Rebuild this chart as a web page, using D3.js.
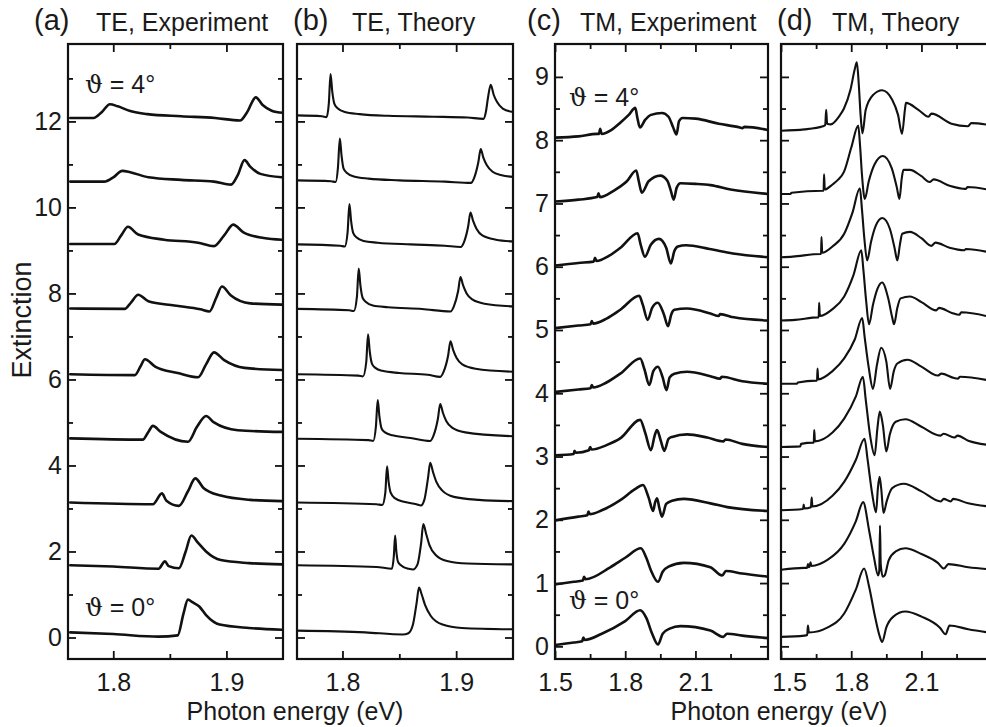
<!DOCTYPE html>
<html><head><meta charset="utf-8">
<script src="https://cdn.jsdelivr.net/npm/d3@7"></script>
<style>
body{margin:0;background:#fff}
svg{display:block}
text{font-family:"Liberation Sans",Arial,Helvetica,sans-serif;fill:#1a1a1a}
</style>
</head><body>
<svg id="chart" width="986" height="727"></svg>
<script>
// ---------------- DATA ----------------
const panelLetters = ["(a)", "(b)", "(c)", "(d)"];
const panelTitles = ["TE, Experiment", "TE, Theory", "TM, Experiment", "TM, Theory"];
const angleLabels = ["\u03D1 = 4\u00B0", "\u03D1 = 0\u00B0"];

const teMajorX = [1.8, 1.9];
const teMinorX = [1.85];
const teMajorY = [0, 2, 4, 6, 8, 10, 12];
const teMinorY = [1, 3, 5, 7, 9, 11, 13];
const tmMajorX = [1.5, 1.8, 2.1];
const tmMinorX = [1.65, 1.95, 2.25];
const tmMajorY = [0, 1, 2, 3, 4, 5, 6, 7, 8, 9];
const tmMinorY = [0.5, 1.5, 2.5, 3.5, 4.5, 5.5, 6.5, 7.5, 8.5];

// (a) TE experiment, spectra for theta = 0 ... 4 deg (offset)
const teExperiment = [
  [[1.762,0.12],[1.8,0.08],[1.84,0.02],[1.857,0.05],[1.862,0.55],[1.866,0.88],[1.87,0.82],[1.876,0.72],[1.882,0.52],[1.894,0.3],[1.92,0.22],[1.949,0.18]],
  [[1.762,1.68],[1.8,1.65],[1.84,1.6],[1.8457,1.77],[1.849,1.66],[1.858,1.61],[1.864,2.0],[1.869,2.37],[1.875,2.2],[1.882,2.0],[1.895,1.8],[1.92,1.73],[1.949,1.7]],
  [[1.762,3.14],[1.835,3.1],[1.843,3.35],[1.847,3.18],[1.858,3.06],[1.866,3.4],[1.8725,3.7],[1.88,3.47],[1.895,3.3],[1.921,3.2],[1.949,3.17]],
  [[1.762,4.63],[1.826,4.6],[1.831,4.78],[1.835,4.92],[1.842,4.78],[1.866,4.55],[1.874,4.9],[1.882,5.15],[1.889,5.0],[1.91,4.82],[1.949,4.78]],
  [[1.762,6.12],[1.819,6.1],[1.824,6.3],[1.828,6.47],[1.837,6.3],[1.857,6.15],[1.875,6.05],[1.882,6.35],[1.889,6.63],[1.898,6.45],[1.916,6.27],[1.949,6.22]],
  [[1.762,7.65],[1.81,7.64],[1.816,7.8],[1.822,7.97],[1.831,7.82],[1.854,7.72],[1.877,7.63],[1.885,7.58],[1.891,7.9],[1.896,8.16],[1.904,7.95],[1.921,7.77],[1.949,7.74]],
  [[1.762,9.15],[1.801,9.15],[1.807,9.35],[1.813,9.55],[1.822,9.37],[1.845,9.25],[1.875,9.18],[1.889,9.1],[1.898,9.35],[1.906,9.6],[1.915,9.42],[1.933,9.29],[1.949,9.25]],
  [[1.762,10.6],[1.792,10.6],[1.8,10.7],[1.808,10.85],[1.815,10.82],[1.831,10.7],[1.86,10.64],[1.889,10.6],[1.904,10.53],[1.91,10.75],[1.916,11.1],[1.921,10.95],[1.93,10.78],[1.949,10.7]],
  [[1.762,12.08],[1.7825,12.08],[1.79,12.22],[1.797,12.4],[1.804,12.35],[1.815,12.24],[1.83,12.17],[1.86,12.12],[1.89,12.08],[1.912,12.02],[1.918,12.2],[1.926,12.56],[1.932,12.38],[1.94,12.25],[1.95,12.2]]
];

// (b) TE theory
const teTheory = [
  [[1.76,0.16],[1.82,0.12],[1.853,0.07],[1.858,0.1],[1.862,0.3],[1.8652,0.8],[1.8673,1.16],[1.8697,1.0],[1.8727,0.75],[1.8777,0.5],[1.888,0.3],[1.905,0.22],[1.95,0.19]],
  [[1.76,1.68],[1.83,1.64],[1.8435,1.6],[1.8452,1.9],[1.8463,2.37],[1.8474,2.0],[1.849,1.75],[1.853,1.65],[1.858,1.6],[1.862,1.58],[1.866,1.7],[1.8692,2.2],[1.8711,2.64],[1.8735,2.42],[1.8765,2.15],[1.882,1.92],[1.892,1.78],[1.91,1.72],[1.95,1.7]],
  [[1.76,3.14],[1.83,3.1],[1.835,3.08],[1.8377,3.37],[1.8392,3.98],[1.8406,3.62],[1.8425,3.36],[1.846,3.24],[1.855,3.15],[1.865,3.1],[1.869,3.07],[1.872,3.2],[1.8752,3.7],[1.8772,4.06],[1.8796,3.85],[1.8826,3.62],[1.8876,3.42],[1.898,3.27],[1.92,3.2],[1.95,3.17]],
  [[1.76,4.62],[1.823,4.59],[1.827,4.57],[1.8294,4.9],[1.831,5.52],[1.8325,5.14],[1.8344,4.86],[1.8374,4.77],[1.844,4.7],[1.86,4.64],[1.877,4.57],[1.88,4.69],[1.8839,5.08],[1.886,5.43],[1.8884,5.22],[1.8914,5.03],[1.8964,4.88],[1.908,4.77],[1.95,4.68]],
  [[1.76,6.12],[1.814,6.09],[1.818,6.07],[1.8209,6.4],[1.8225,7.05],[1.824,6.65],[1.8259,6.37],[1.8289,6.27],[1.835,6.2],[1.85,6.15],[1.875,6.11],[1.886,6.06],[1.889,6.18],[1.8929,6.55],[1.895,6.89],[1.8974,6.68],[1.9004,6.5],[1.9054,6.35],[1.917,6.25],[1.95,6.18]],
  [[1.76,7.64],[1.806,7.61],[1.81,7.59],[1.8127,7.92],[1.8143,8.58],[1.8158,8.18],[1.8177,7.9],[1.8207,7.8],[1.8267,7.72],[1.84,7.68],[1.87,7.64],[1.895,7.58],[1.898,7.7],[1.9017,8.05],[1.9038,8.38],[1.9062,8.18],[1.9092,8.0],[1.9142,7.86],[1.925,7.76],[1.95,7.7]],
  [[1.76,9.14],[1.798,9.11],[1.802,9.09],[1.8045,9.42],[1.8061,10.08],[1.8076,9.68],[1.8095,9.4],[1.8125,9.3],[1.8185,9.22],[1.831,9.18],[1.86,9.14],[1.89,9.11],[1.904,9.08],[1.907,9.2],[1.9105,9.55],[1.9126,9.88],[1.915,9.68],[1.918,9.5],[1.923,9.35],[1.935,9.25],[1.95,9.21]],
  [[1.76,10.63],[1.79,10.61],[1.794,10.59],[1.796,10.92],[1.7977,11.6],[1.7992,11.2],[1.801,10.9],[1.804,10.8],[1.81,10.72],[1.823,10.67],[1.85,10.63],[1.89,10.6],[1.913,10.57],[1.916,10.7],[1.9195,11.05],[1.9216,11.36],[1.924,11.15],[1.927,10.98],[1.932,10.83],[1.94,10.75],[1.95,10.71]],
  [[1.76,12.14],[1.782,12.12],[1.786,12.1],[1.788,12.42],[1.7895,13.1],[1.791,12.7],[1.793,12.4],[1.796,12.3],[1.802,12.22],[1.815,12.17],[1.84,12.13],[1.88,12.11],[1.91,12.09],[1.924,12.06],[1.926,12.2],[1.928,12.55],[1.9304,12.85],[1.933,12.62],[1.936,12.45],[1.941,12.3],[1.95,12.22]]
];

// (c) TM experiment
const tmExperiment = [
  [[1.5,0.02],[1.58,0.06],[1.616,0.08],[1.621,0.14],[1.627,0.1],[1.7,0.2],[1.8,0.4],[1.864,0.57],[1.89,0.45],[1.915,0.2],[1.94,0.03],[1.96,0.2],[1.99,0.28],[2.036,0.32],[2.164,0.25],[2.219,0.15],[2.235,0.2],[2.3,0.17],[2.41,0.13]],
  [[1.5,0.98],[1.58,1.02],[1.619,1.04],[1.624,1.1],[1.63,1.06],[1.736,1.25],[1.8,1.4],[1.867,1.55],[1.89,1.4],[1.91,1.2],[1.94,1.02],[1.96,1.18],[1.985,1.26],[2.05,1.32],[2.164,1.25],[2.214,1.12],[2.23,1.19],[2.3,1.15],[2.41,1.1]],
  [[1.5,1.99],[1.6,2.05],[1.638,2.07],[1.643,2.13],[1.649,2.09],[1.7,2.15],[1.779,2.31],[1.84,2.48],[1.876,2.55],[1.9,2.35],[1.919,2.14],[1.928,2.28],[1.936,2.34],[1.945,2.2],[1.957,2.05],[1.975,2.25],[2.0,2.3],[2.05,2.33],[2.164,2.26],[2.236,2.2],[2.41,2.14]],
  [[1.5,3.02],[1.58,3.04],[1.583,3.09],[1.59,3.06],[1.645,3.1],[1.65,3.15],[1.656,3.11],[1.72,3.18],[1.78,3.29],[1.864,3.58],[1.885,3.38],[1.91,3.1],[1.925,3.32],[1.936,3.42],[1.952,3.25],[1.967,3.09],[1.985,3.28],[2.0,3.31],[2.064,3.35],[2.15,3.3],[2.22,3.24],[2.228,3.27],[2.3,3.2],[2.41,3.15]],
  [[1.5,4.02],[1.6,4.06],[1.652,4.08],[1.657,4.13],[1.663,4.09],[1.72,4.17],[1.779,4.31],[1.864,4.55],[1.882,4.38],[1.903,4.13],[1.92,4.35],[1.94,4.42],[1.96,4.25],[1.976,4.05],[1.99,4.25],[2.01,4.31],[2.064,4.34],[2.164,4.27],[2.205,4.23],[2.212,4.26],[2.3,4.19],[2.41,4.15]],
  [[1.5,5.03],[1.6,5.07],[1.652,5.09],[1.657,5.14],[1.663,5.1],[1.72,5.18],[1.779,5.32],[1.86,5.54],[1.875,5.4],[1.896,5.16],[1.915,5.35],[1.939,5.43],[1.965,5.25],[1.983,5.06],[1.997,5.25],[2.01,5.32],[2.064,5.34],[2.164,5.26],[2.2,5.22],[2.205,5.25],[2.264,5.2],[2.41,5.15]],
  [[1.5,6.02],[1.6,6.06],[1.665,6.08],[1.671,6.14],[1.677,6.09],[1.73,6.17],[1.78,6.3],[1.853,6.53],[1.866,6.35],[1.884,6.16],[1.91,6.35],[1.944,6.44],[1.975,6.3],[1.995,6.05],[2.01,6.25],[2.025,6.32],[2.06,6.34],[2.16,6.28],[2.26,6.21],[2.41,6.15]],
  [[1.5,7.03],[1.6,7.06],[1.68,7.1],[1.686,7.16],[1.692,7.1],[1.75,7.2],[1.807,7.35],[1.847,7.52],[1.858,7.35],[1.871,7.17],[1.9,7.35],[1.95,7.44],[1.98,7.36],[1.995,7.2],[2.007,7.06],[2.02,7.25],[2.036,7.32],[2.1,7.31],[2.164,7.29],[2.25,7.22],[2.41,7.15]],
  [[1.5,8.04],[1.6,8.06],[1.68,8.1],[1.688,8.1],[1.693,8.18],[1.699,8.1],[1.74,8.16],[1.78,8.28],[1.815,8.4],[1.843,8.51],[1.852,8.35],[1.863,8.2],[1.885,8.32],[1.91,8.4],[1.957,8.43],[1.985,8.37],[2.005,8.2],[2.019,8.09],[2.03,8.3],[2.045,8.35],[2.1,8.34],[2.2,8.26],[2.29,8.2],[2.3,8.19],[2.31,8.21],[2.41,8.16]]
];

// (d) TM theory
const tmTheory = [
  [[1.5,0.15],[1.6,0.17],[1.612,0.18],[1.615,0.33],[1.619,0.22],[1.7,0.3],[1.77,0.52],[1.82,0.9],[1.855,1.23],[1.876,0.95],[1.9,0.5],[1.92,0.18],[1.932,0.07],[1.95,0.3],[1.98,0.47],[2.031,0.55],[2.1,0.47],[2.18,0.29],[2.203,0.19],[2.22,0.33],[2.3,0.27],[2.42,0.2]],
  [[1.5,1.21],[1.6,1.24],[1.612,1.24],[1.615,1.3],[1.618,1.25],[1.622,1.26],[1.626,1.33],[1.63,1.27],[1.7,1.37],[1.77,1.62],[1.82,1.98],[1.851,2.28],[1.876,1.84],[1.897,1.41],[1.915,1.12],[1.92,1.2],[1.923,1.91],[1.926,1.3],[1.935,1.1],[1.943,1.12],[1.96,1.36],[1.99,1.5],[2.031,1.55],[2.1,1.46],[2.17,1.32],[2.196,1.23],[2.215,1.3],[2.3,1.25],[2.42,1.21]],
  [[1.5,2.15],[1.594,2.17],[1.597,2.24],[1.6,2.18],[1.628,2.2],[1.631,2.35],[1.634,2.21],[1.72,2.38],[1.77,2.6],[1.82,2.95],[1.857,3.28],[1.87,2.95],[1.89,2.4],[1.906,2.12],[1.914,2.5],[1.921,2.68],[1.928,2.5],[1.938,2.11],[1.952,2.3],[1.975,2.5],[2.025,2.57],[2.1,2.45],[2.183,2.29],[2.195,2.33],[2.225,2.29],[2.235,2.33],[2.3,2.26],[2.42,2.2]],
  [[1.5,3.15],[1.582,3.16],[1.586,3.2],[1.637,3.22],[1.64,3.22],[1.642,3.42],[1.645,3.24],[1.72,3.38],[1.77,3.6],[1.82,3.95],[1.85,4.26],[1.862,3.9],[1.882,3.3],[1.9,3.02],[1.912,3.45],[1.922,3.71],[1.935,3.5],[1.95,3.08],[1.965,3.35],[1.99,3.55],[2.032,3.59],[2.1,3.47],[2.18,3.33],[2.195,3.36],[2.24,3.3],[2.255,3.33],[2.3,3.25],[2.42,3.17]],
  [[1.5,4.15],[1.568,4.15],[1.572,4.17],[1.651,4.2],[1.654,4.2],[1.656,4.39],[1.659,4.22],[1.72,4.35],[1.77,4.55],[1.815,4.85],[1.847,5.19],[1.857,4.9],[1.875,4.4],[1.893,4.07],[1.91,4.45],[1.928,4.72],[1.95,4.5],[1.966,4.07],[1.982,4.35],[1.997,4.47],[2.04,4.53],[2.1,4.42],[2.17,4.28],[2.185,4.31],[2.24,4.24],[2.255,4.23],[2.265,4.26],[2.42,4.18]],
  [[1.5,5.15],[1.56,5.16],[1.658,5.2],[1.661,5.2],[1.663,5.43],[1.666,5.22],[1.72,5.33],[1.77,5.53],[1.81,5.87],[1.843,6.26],[1.852,5.95],[1.864,5.45],[1.876,5.09],[1.893,5.4],[1.912,5.65],[1.932,5.75],[1.958,5.5],[1.975,5.2],[1.983,5.09],[1.997,5.35],[2.011,5.5],[2.051,5.53],[2.1,5.44],[2.163,5.31],[2.175,5.35],[2.23,5.27],[2.262,5.24],[2.27,5.28],[2.42,5.18]],
  [[1.5,6.15],[1.55,6.16],[1.668,6.2],[1.671,6.2],[1.673,6.47],[1.676,6.22],[1.72,6.32],[1.77,6.52],[1.805,6.85],[1.837,7.24],[1.846,6.9],[1.856,6.45],[1.868,6.1],[1.885,6.4],[1.905,6.65],[1.933,6.77],[1.965,6.6],[1.985,6.3],[1.997,6.1],[2.008,6.35],[2.018,6.52],[2.051,6.55],[2.1,6.45],[2.142,6.33],[2.16,6.38],[2.22,6.3],[2.283,6.26],[2.29,6.28],[2.42,6.2]],
  [[1.5,7.15],[1.54,7.15],[1.545,7.17],[1.678,7.2],[1.682,7.2],[1.684,7.46],[1.687,7.22],[1.72,7.3],[1.745,7.38],[1.769,7.5],[1.8,7.88],[1.83,8.23],[1.838,7.9],[1.846,7.45],[1.858,7.07],[1.875,7.35],[1.9,7.62],[1.935,7.75],[1.973,7.56],[1.995,7.25],[2.006,7.07],[2.016,7.4],[2.023,7.53],[2.051,7.53],[2.1,7.43],[2.135,7.34],[2.152,7.38],[2.22,7.28],[2.29,7.23],[2.297,7.26],[2.42,7.19]],
  [[1.5,8.15],[1.6,8.17],[1.679,8.22],[1.689,8.24],[1.693,8.48],[1.697,8.26],[1.713,8.25],[1.749,8.38],[1.769,8.5],[1.797,8.8],[1.815,9.12],[1.824,9.23],[1.832,8.9],[1.84,8.4],[1.848,8.11],[1.862,8.48],[1.895,8.72],[1.932,8.79],[1.975,8.64],[2.0,8.4],[2.017,8.1],[2.03,8.5],[2.034,8.59],[2.087,8.48],[2.13,8.37],[2.143,8.42],[2.228,8.26],[2.299,8.22],[2.313,8.27],[2.42,8.22]]
];

// ---------------- DRAWING ----------------
const svg = d3.select("#chart");
const TOP = 44, BOTTOM = 659;

const panels = [
  {left: 68,  right: 283, xd: [1.76, 1.95], yd: [-0.5, 13.8], data: teExperiment, lw: 2.6,
   mx: teMajorX, nx: teMinorX, my: teMajorY, ny: teMinorY, labX: true, labY: true, fmtX: ".1f"},
  {left: 297, right: 513, xd: [1.76, 1.95], yd: [-0.5, 13.8], data: teTheory, lw: 2.1,
   mx: teMajorX, nx: teMinorX, my: teMajorY, ny: teMinorY, labX: true, labY: false, fmtX: ".1f"},
  {left: 555, right: 768, xd: [1.5, 2.41], yd: [-0.2, 9.52], data: tmExperiment, lw: 2.6,
   mx: tmMajorX, nx: tmMinorX, my: tmMajorY, ny: tmMinorY, labX: true, labY: true, fmtX: ".1f"},
  {left: 781, right: 994, xd: [1.5, 2.41], yd: [-0.2, 9.52], data: tmTheory, lw: 2.1,
   mx: tmMajorX, nx: tmMinorX, my: tmMajorY, ny: tmMinorY, labX: true, labY: false, fmtX: ".1f"}
];

const defs = svg.append("defs");

panels.forEach((p, i) => {
  const x = d3.scaleLinear().domain(p.xd).range([p.left, p.right]);
  const y = d3.scaleLinear().domain(p.yd).range([BOTTOM, TOP]);
  const g = svg.append("g");

  defs.append("clipPath").attr("id", "clip" + i)
    .append("rect").attr("x", p.left).attr("y", TOP).attr("width", p.right - p.left).attr("height", BOTTOM - TOP);

  const line = d3.line().x(d => x(d[0])).y(d => y(d[1])).curve(d3.curveMonotoneX);
  g.append("g").attr("clip-path", "url(#clip" + i + ")")
    .selectAll("path").data(p.data).join("path")
    .attr("d", line)
    .attr("fill", "none").attr("stroke", "#111").attr("stroke-width", p.lw)
    .attr("stroke-linejoin", "round").attr("stroke-linecap", "round");

  function styleAxis(sel) {
    sel.select(".domain").remove();
    sel.selectAll(".tick line").attr("stroke", "#111").attr("stroke-width", 1.8);
    sel.selectAll("text").attr("font-size", 25).attr("fill", "#1a1a1a")
       .attr("font-family", '"Liberation Sans", Arial, sans-serif');
  }
  // bottom
  g.append("g").attr("transform", `translate(0,${BOTTOM})`)
    .call(d3.axisBottom(x).tickValues(p.mx).tickSize(-8).tickPadding(14)
      .tickFormat(p.labX ? d3.format(p.fmtX) : ""))
    .call(styleAxis).attr("class", "xaxis" + i);
  g.append("g").attr("transform", `translate(0,${BOTTOM})`)
    .call(d3.axisBottom(x).tickValues(p.nx).tickSize(-5).tickFormat("")).call(styleAxis);
  // top
  g.append("g").attr("transform", `translate(0,${TOP})`)
    .call(d3.axisTop(x).tickValues(p.mx).tickSize(-8).tickFormat("")).call(styleAxis);
  g.append("g").attr("transform", `translate(0,${TOP})`)
    .call(d3.axisTop(x).tickValues(p.nx).tickSize(-5).tickFormat("")).call(styleAxis);
  // left
  g.append("g").attr("transform", `translate(${p.left},0)`)
    .call(d3.axisLeft(y).tickValues(p.my).tickSize(-8).tickPadding(6)
      .tickFormat(p.labY ? d3.format("d") : "")).call(styleAxis);
  g.append("g").attr("transform", `translate(${p.left},0)`)
    .call(d3.axisLeft(y).tickValues(p.ny).tickSize(-5).tickFormat("")).call(styleAxis);
  // right
  g.append("g").attr("transform", `translate(${p.right},0)`)
    .call(d3.axisRight(y).tickValues(p.my).tickSize(-8).tickFormat("")).call(styleAxis);
  g.append("g").attr("transform", `translate(${p.right},0)`)
    .call(d3.axisRight(y).tickValues(p.ny).tickSize(-5).tickFormat("")).call(styleAxis);

  // frame
  g.append("rect").attr("x", p.left).attr("y", TOP)
    .attr("width", p.right - p.left).attr("height", BOTTOM - TOP)
    .attr("fill", "none").attr("stroke", "#111").attr("stroke-width", 2.2);

  p.x = x; p.y = y;
});

// nudge the "1.5" label of panel (d) like the reference
svg.select(".xaxis3").selectAll(".tick text").filter(d => d === 1.5).attr("dx", 8);

// panel letters and titles
const letterX = [34, 293, 527, 777];
const titleX = [96, 352, 580, 832];
panelLetters.forEach((t, i) => {
  svg.append("text").attr("x", letterX[i]).attr("y", 30).attr("font-size", 29).text(t);
  svg.append("text").attr("x", titleX[i]).attr("y", 31).attr("font-size", 25).text(panelTitles[i]);
});

// angle labels
function angle(xp, yp, txt) {
  const t = svg.append("text").attr("x", xp).attr("y", yp).attr("font-size", 25);
  t.append("tspan").attr("font-family", '"DejaVu Serif", "Liberation Serif", serif').text(txt.slice(0, 1));
  t.append("tspan").text(txt.slice(1));
}
angle(85, 93, angleLabels[0]);
angle(85, 616, angleLabels[1]);
angle(569, 106, angleLabels[0]);
angle(569, 609, angleLabels[1]);

// axis titles
svg.append("text").attr("transform", "translate(31,320) rotate(-90)")
  .attr("text-anchor", "middle").attr("font-size", 27).text("Extinction");
svg.append("text").attr("x", 295).attr("y", 720).attr("text-anchor", "middle")
  .attr("font-size", 25).text("Photon energy (eV)");
svg.append("text").attr("x", 779).attr("y", 720).attr("text-anchor", "middle")
  .attr("font-size", 25).text("Photon energy (eV)");
</script>
</body></html>
